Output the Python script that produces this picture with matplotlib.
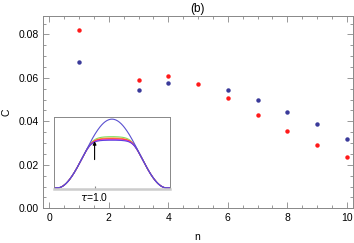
import numpy as np
import matplotlib
matplotlib.use("Agg")
from matplotlib import pyplot as plt
from matplotlib.ticker import MultipleLocator

plt.rcParams['font.family'] = ['Liberation Sans', 'DejaVu Sans']

# main data
n_red = [1, 3, 4, 5, 6, 7, 8, 9, 10]
c_red = [0.0821, 0.0591, 0.0608, 0.0573, 0.0507, 0.0429, 0.0355, 0.0291, 0.0235]
n_blue = [1, 3, 4, 6, 7, 8, 9, 10]
c_blue = [0.0671, 0.0545, 0.0576, 0.0543, 0.0497, 0.0443, 0.0388, 0.0319]

# inset: peak height of bell curve and plateau levels of the other curves
bell_peak = 0.97
plateau_levels = [0.732, 0.712, 0.698, 0.688, 0.678]
plateau_colors = ['#80e060', '#ffa040', '#ff2020', '#e040e0', '#6040e0']

gray = '#888888'
fig = plt.figure(figsize=(3.54, 2.43), dpi=100)
ax = fig.add_axes([0.1224, 0.1428, 0.8739, 0.7926])
ax.plot(n_red, c_red, 'o', color='#ff1a1a', ms=3.2, mec='none')
ax.plot(n_blue, c_blue, 'o', color='#3a3a9a', ms=3.2, mec='none')
ax.set_xlim(-0.2, 10.2)
ax.set_ylim(0, 0.0886)
ax.xaxis.set_major_locator(MultipleLocator(2))
ax.xaxis.set_minor_locator(MultipleLocator(0.5))
ax.yaxis.set_major_locator(MultipleLocator(0.02))
ax.yaxis.set_minor_locator(MultipleLocator(0.005))
ax.yaxis.set_major_formatter(matplotlib.ticker.FormatStrFormatter('%.2f'))
ax.tick_params(which='both', direction='in', top=True, right=True, color=gray,
               labelsize=7.5, width=0.6)
ax.tick_params(which='major', length=4)
ax.tick_params(which='minor', length=2)
for s in ax.spines.values():
    s.set_color(gray)
    s.set_linewidth(0.7)
fig.text(197 / 354, 1 - 237 / 243, 'n', fontsize=7.5, ha='center', va='center')
fig.text(7 / 354, 1 - 112 / 243, 'C', fontsize=7.5, ha='center', va='center',
         rotation=90)
fig.text(198 / 354, 1 - 9 / 243, '(b)', fontsize=8.5, ha='center', va='center')

# inset
ins = fig.add_axes([0.1525, 0.2235, 0.3277, 0.295])
t = np.linspace(0, 1, 200)
u = np.clip((t - 0.026) / 0.948, 0, 1)
bell = bell_peak * np.sin(np.pi * u) ** 2
for h, col in zip(plateau_levels, plateau_colors):
    y = (np.maximum(bell, 1e-9) ** -8 + h ** -8) ** (-1 / 8)
    ins.plot(t, y, color=col, lw=0.8)
ins.plot(t, bell, color='#5a50d0', lw=0.8)
ins.annotate('', xy=(0.35, 0.66), xytext=(0.35, 0.40),
             arrowprops=dict(arrowstyle='-|>', color='k', lw=0.8,
                             mutation_scale=5, shrinkA=0, shrinkB=0))
ins.set_xlim(0, 1)
ins.set_ylim(-0.01, 1.0)
ins.set_xticks([0.35])
ins.set_xticklabels([r'$\tau$=1.0'])
ins.set_yticks([])
ins.tick_params(axis='x', direction='in', length=2, color=gray, labelsize=7.5, pad=2)
for s in ins.spines.values():
    s.set_color(gray)
    s.set_linewidth(0.7)
ins.spines['bottom'].set_color('#cccccc')
ins.spines['bottom'].set_linewidth(1.8)

fig.savefig('out.png', dpi=100)
